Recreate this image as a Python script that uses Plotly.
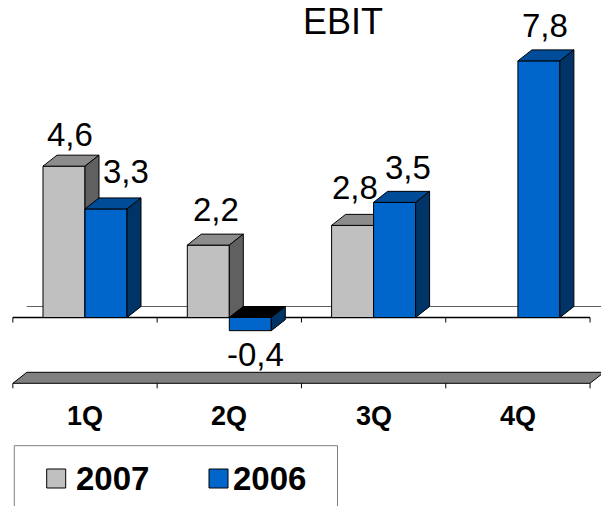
import plotly.graph_objects as go

# ---- data ---------------------------------------------------------------
quarters = ["1Q", "2Q", "3Q", "4Q"]
ebit_2007 = [4.6, 2.2, 2.8, None]
ebit_2006 = [3.3, -0.4, 3.5, 7.8]
series_names = ["2007", "2006"]
title_text = "EBIT"

# ---- geometry / style ---------------------------------------------------
W, H = 601, 506
X_PX = 144.3      # pixels per category slot
Y_PX = 32.9       # pixels per EBIT unit
X0_PX = 85.0      # pixel x of the first category centre
Y0_PX = 317.5     # pixel y of the zero line
FLOOR = -2.0      # value at which the 3D floor sits

x_range = [-X0_PX / X_PX, (W - X0_PX) / X_PX]
y_range = [-(H - Y0_PX) / Y_PX, Y0_PX / Y_PX]

BAR_W = 42 / X_PX   # bar width in category units
DX = 14 / X_PX      # 3D depth, horizontal
DY = 11 / Y_PX      # 3D depth, vertical
TICK = 5 / Y_PX     # tick length

FONT = "Liberation Sans, Arial, sans-serif"

colors = {
    "2007": dict(front="#C0C0C0", top="#8C8C8C", side="#606060"),
    "2006": dict(front="#0066CC", top="#004C99", side="#003366"),
}
NEG_TOP = "#000000"

# label nudges in pixels (dx right, dy down) per series / quarter
label_nudge = {
    "2007": [(-1, 4), (1, 0), (-5, -2), (0, 0)],
    "2006": [(13, -2), (-2, 0), (6, 1), (-1, 0)],
}

fig = go.Figure()


def poly(points, fill, line_color="#000000", width=1):
    xs = [p[0] for p in points] + [points[0][0]]
    ys = [p[1] for p in points] + [points[0][1]]
    fig.add_trace(go.Scatter(
        x=xs, y=ys, mode="lines", fill="toself", fillcolor=fill,
        line=dict(color=line_color, width=width),
        hoverinfo="skip", showlegend=False,
    ))


def line(xs, ys, color="#000000", width=1):
    fig.add_trace(go.Scatter(
        x=xs, y=ys, mode="lines", line=dict(color=color, width=width),
        hoverinfo="skip", showlegend=False,
    ))


left_edge = -0.5
right_edge = len(quarters) - 0.5
boundaries = [left_edge + k for k in range(len(quarters) + 1)]

# floor slab
poly([(left_edge, FLOOR), (left_edge + DX, FLOOR + DY),
      (right_edge + DX, FLOOR + DY), (right_edge, FLOOR)], "#808080")
for b in boundaries:
    line([b, b], [FLOOR, FLOOR - TICK])

# zero plane: back edge and front axis line with ticks
line([left_edge + DX, x_range[1] + 0.2], [DY, DY], color="#606060")
line([left_edge, right_edge], [0, 0], width=1.3)
for b in boundaries:
    line([b, b], [0, -TICK])

# bars (front, top and side faces)
series_values = {"2007": ebit_2007, "2006": ebit_2006}
annotations = []
for i, q in enumerate(quarters):
    for s_idx, name in enumerate(series_names):
        v = series_values[name][i]
        if v is None:
            continue
        c = colors[name]
        x0 = i - BAR_W if s_idx == 0 else i
        x1 = x0 + BAR_W
        lo, hi = min(0.0, v), max(0.0, v)
        poly([(x0, lo), (x1, lo), (x1, hi), (x0, hi)], c["front"])
        poly([(x0, hi), (x0 + DX, hi + DY), (x1 + DX, hi + DY), (x1, hi)],
             c["top"] if v >= 0 else NEG_TOP)
        poly([(x1, lo), (x1 + DX, lo + DY), (x1 + DX, hi + DY), (x1, hi)],
             c["side"])

        ndx, ndy = label_nudge[name][i]
        text = f"{v:.1f}".replace(".", ",")
        cx = x0 + (BAR_W + DX) / 2
        if v >= 0:
            y, ys = v + DY, 24.5 - ndy
        else:
            y, ys = v, -23.5 - ndy
        annotations.append(dict(
            x=cx, y=y, xref="x", yref="y", text=text, showarrow=False,
            xanchor="center", yanchor="middle", xshift=ndx, yshift=ys,
            font=dict(family=FONT, size=33, color="#000000"),
        ))

# category labels under the floor
for i, q in enumerate(quarters):
    annotations.append(dict(
        x=i, y=FLOOR, xref="x", yref="y", text=q, showarrow=False,
        xanchor="center", yanchor="middle", yshift=-32.7,
        font=dict(family=FONT, size=27, color="#000000", weight="bold"),
    ))

# title
annotations.append(dict(
    x=343 / W, y=1, xref="paper", yref="paper", text=title_text,
    showarrow=False, xanchor="center", yanchor="top", borderpad=0,
    font=dict(family=FONT, size=36, color="#000000"),
))


def px(xp):
    return xp / W


def py(yp):
    return 1 - yp / H


shapes = [dict(type="rect", xref="paper", yref="paper",
               x0=px(14.3), x1=px(337.5), y0=py(445.7), y1=py(540),
               line=dict(color="#7F7F7F", width=1), fillcolor="rgba(0,0,0,0)")]

legend_items = [(46.7, 74), (209, 231)]
for name, (sq_x, tx) in zip(series_names, legend_items):
    shapes.append(dict(type="rect", xref="paper", yref="paper",
                       x0=px(sq_x), x1=px(sq_x + 19), y0=py(488), y1=py(469),
                       line=dict(color="#000000", width=1),
                       fillcolor=colors[name]["front"]))
    annotations.append(dict(
        x=px(tx), y=py(478), xref="paper", yref="paper", text=name,
        showarrow=False, xanchor="left", yanchor="middle",
        font=dict(family=FONT, size=33, color="#000000", weight="bold"),
    ))

fig.update_layout(
    width=W, height=H, margin=dict(l=0, r=0, t=0, b=0),
    paper_bgcolor="white", plot_bgcolor="white",
    xaxis=dict(range=x_range, visible=False, fixedrange=True),
    yaxis=dict(range=y_range, visible=False, fixedrange=True),
    showlegend=False, hovermode=False,
    annotations=annotations, shapes=shapes,
)

fig.write_html("out.html")
